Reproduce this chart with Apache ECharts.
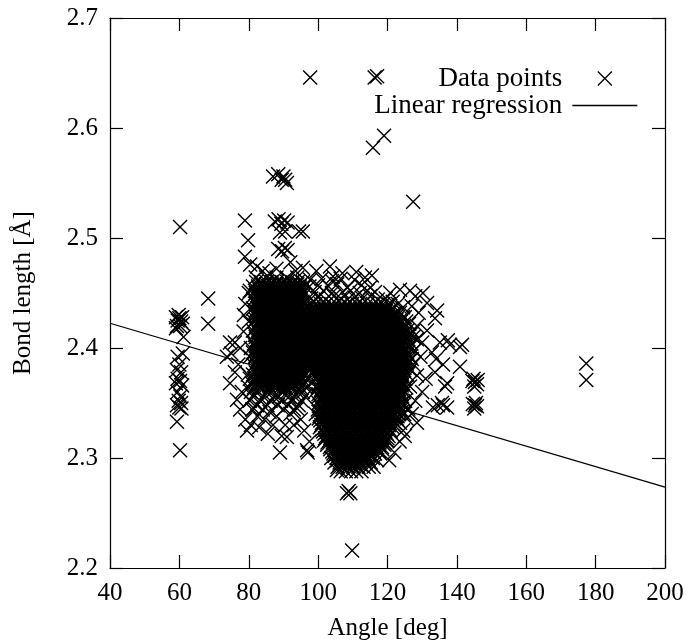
<!DOCTYPE html>
<html>
<head>
<meta charset="utf-8">
<script src="https://cdn.jsdelivr.net/npm/echarts@6.0.0/dist/echarts.min.js"></script>
<style>
html,body{margin:0;padding:0;background:#fff;}
#chart{width:689px;height:641px;}
</style>
</head>
<body>
<div id="chart"></div>
<script>
// ---------- axis settings ----------
const xRange = [40, 200];
const xStep = 20;
const yRange = [2.2, 2.7];
const yStep = 0.1;
const xTitle = 'Angle [deg]';
const yTitle = 'Bond length [Å]';
const seriesNames = ['Data points', 'Linear regression'];

// ---------- data (angle [deg], bond length [Å]) ----------
// column of points near 60 deg
const column60 = [
  [59,2.428],[59.5,2.425],[60,2.427],[60.5,2.424],[59.3,2.42],[60.2,2.42],[61,2.422],[59.8,2.43],
  [60.8,2.428],[59,2.418],[61.2,2.41],[61,2.395],[59.5,2.392],[60,2.385],[59.3,2.38],[60.5,2.378],
  [59.5,2.372],[60.2,2.37],[59,2.368],[60.8,2.366],[59.5,2.36],[60.3,2.356],[59.8,2.352],[60.5,2.35],
  [59.3,2.348],[60,2.346],[60.6,2.345],[59.3,2.333],[60.2,2.307],[60.2,2.51]
];
// isolated points 65-97 deg and above the clusters
const scatteredLow = [
  [68.3,2.445],[68.3,2.422],[73.7,2.392],[74.6,2.405],[76,2.405],[74.6,2.368],[76,2.378],[76.6,2.353],
  [77.5,2.344],[78,2.36],[79,2.335],[79.5,2.325],[80.6,2.33],[81.5,2.345],[82.5,2.338],[83,2.328],
  [84.5,2.335],[85.5,2.322],[86,2.342],[87,2.33],[88,2.338],[89,2.305],[89.5,2.32],[90.5,2.33],
  [91,2.319],[92,2.34],[93,2.33],[94,2.345],[95,2.335],[96,2.325],[97,2.305],[97.5,2.315],
  [96.8,2.307],[75,2.395],[77,2.385],[77.5,2.4],[78.5,2.415],[78.6,2.43],[79,2.44],[80,2.45],
  [78.9,2.516],[79.8,2.498],[78.9,2.483],[80.4,2.476],[82.4,2.474],[84,2.47],[86,2.468],[88,2.472],
  [92,2.478],[93.5,2.47],[95.6,2.473],[87,2.556],[88.5,2.558],[89.5,2.553],[90.5,2.553],[91,2.55],
  [90,2.556],[87.5,2.515],[88.6,2.517],[89.4,2.513],[90.2,2.516],[91.2,2.514],[89,2.505],[90.5,2.506],
  [94.5,2.506],[88.5,2.49],[89.6,2.488],[90.4,2.491],[91.2,2.489],
  [80.3,2.452],[80,2.424],[80.6,2.4],[79.7,2.376],[80.3,2.392]
];
// dense cluster 80-97 deg: each row = [bond length, angles...]
const clusterA = [
  [2.464, 82,85,88,91,94],
  [2.460, 82.1,83.6,85.1,86.6,88.1,89.6,91.1,92.6,94.1,95.6],
  [2.456, 81.2,82.7,84.2,85.7,87.2,88.7,90.2,91.7,93.2,94.7,96.2],
  [2.452, 81.8,83.3,84.8,86.3,87.8,89.3,90.8,92.3,93.8,95.3],
  [2.448, 82.4,83.9,85.4,86.9,88.4,89.9,91.4,92.9,94.4,95.9],
  [2.444, 81.5,83,84.5,86,87.5,89,90.5,92,93.5,95],
  [2.440, 82.1,83.6,85.1,86.6,88.1,89.6,91.1,92.6,94.1,95.6],
  [2.436, 81.2,82.7,84.2,85.7,87.2,88.7,90.2,91.7,93.2,94.7,96.2],
  [2.432, 81.8,83.3,84.8,86.3,87.8,89.3,90.8,92.3,93.8,95.3],
  [2.428, 82.4,83.9,85.4,86.9,88.4,89.9,91.4,92.9,94.4,95.9],
  [2.424, 81.5,83,84.5,86,87.5,89,90.5,92,93.5,95],
  [2.420, 82.1,83.6,85.1,86.6,88.1,89.6,91.1,92.6,94.1,95.6],
  [2.416, 81.2,82.7,84.2,85.7,87.2,88.7,90.2,91.7,93.2,94.7],
  [2.412, 81.8,83.3,84.8,86.3,87.8,89.3,90.8,92.3,93.8,95.3],
  [2.408, 82.4,83.9,85.4,86.9,88.4,89.9,91.4,92.9,94.4],
  [2.404, 81.5,83,84.5,86,87.5,89,90.5,92,93.5,95],
  [2.400, 82.1,83.6,85.1,86.6,88.1,89.6,91.1,92.6,94.1,95.6],
  [2.396, 81.2,82.7,84.2,85.7,87.2,88.7,90.2,91.7,93.2,94.7],
  [2.392, 81.8,83.3,84.8,86.3,87.8,89.3,90.8,92.3,93.8,95.3],
  [2.388, 82.4,83.9,85.4,86.9,88.4,89.9,91.4,92.9,94.4,95.9],
  [2.384, 81.5,83,84.5,86,87.5,89,90.5,92,93.5,95,96.5],
  [2.380, 82.1,83.6,85.1,86.6,88.1,89.6,91.1,92.6,94.1,95.6],
  [2.376, 81.2,82.7,84.2,85.7,87.2,88.7,90.2,91.7,93.2,94.7,96.2],
  [2.372, 80.3,81.8,83.3,84.8,86.3,87.8,89.3,90.8,92.3,93.8,95.3,96.8],
  [2.368, 80.9,82.4,83.9,85.4,86.9,88.4,89.9,91.4,92.9,94.4,95.9],
  [2.364, 80,81.5,83,84.5,86,87.5,89,90.5,92,93.5,95,96.5],
  [2.360, 80.6,82.1,85.1,86.6,89.6,91.1,94.1,95.6],
  [2.356, 81.2,84.2,87.2,88.7,91.7,93.2,96.2],
  [2.352, 80.3,83.3,86.3,89.3,92.3,95.3],
  [2.348, 82.4,85.4,88.4,91.4,94.4],
  [2.344, 81,84,90,93]
];
// overplotted interior of cluster A (between the rows above)
const clusterAInner = [
  [2.458, 83.5,85,86.5,88,89.5,91,92.5,94],
  [2.454, 82.8,84.3,85.8,87.3,88.8,90.3,91.8,93.3,94.8],
  [2.450, 82,83.5,85,86.5,88,89.5,91,92.5,94,95.5],
  [2.446, 82.8,84.3,85.8,87.3,88.8,90.3,91.8,93.3,94.8],
  [2.442, 82,83.5,85,86.5,88,89.5,91,92.5,94,95.5],
  [2.438, 82.8,84.3,85.8,87.3,88.8,90.3,91.8,93.3,94.8],
  [2.434, 82,83.5,85,86.5,88,89.5,91,92.5,94,95.5],
  [2.430, 82.8,84.3,85.8,87.3,88.8,90.3,91.8,93.3,94.8],
  [2.426, 82,83.5,85,86.5,88,89.5,91,92.5,94,95.5],
  [2.422, 82.8,84.3,85.8,87.3,88.8,90.3,91.8,93.3,94.8],
  [2.418, 82,83.5,85,86.5,88,89.5,91,92.5,94,95.5],
  [2.414, 82.8,84.3,85.8,87.3,88.8,90.3,91.8,93.3,94.8],
  [2.410, 82,83.5,85,86.5,88,89.5,91,92.5,94,95.5],
  [2.406, 82.8,84.3,85.8,87.3,88.8,90.3,91.8,93.3,94.8],
  [2.402, 82,83.5,85,86.5,88,89.5,91,92.5,94,95.5],
  [2.398, 82.8,84.3,85.8,87.3,88.8,90.3,91.8,93.3,94.8],
  [2.394, 82,83.5,85,86.5,88,89.5,91,92.5,94,95.5],
  [2.390, 82.8,84.3,85.8,87.3,88.8,90.3,91.8,93.3,94.8],
  [2.386, 82,83.5,85,86.5,88,89.5,91,92.5,94,95.5],
  [2.382, 82.8,84.3,85.8,87.3,88.8,90.3,91.8,93.3,94.8],
  [2.378, 82,83.5,85,86.5,88,89.5,91,92.5,94,95.5],
  [2.374, 82.8,84.3,85.8,87.3,88.8,90.3,91.8,93.3,94.8],
  [2.370, 82,83.5,85,86.5,88,89.5,91,92.5,94],
  [2.366, 82.8,84.3,85.8,87.3,88.8,90.3,91.8,93.3]
];
// dense main cluster 96-127 deg: each row = [bond length, angles...]
const clusterB = [
  [2.288, 106.5,108,109.5,111,112.5],
  [2.292, 105.6,107.1,108.6,110.1,111.6,113.1,114.6],
  [2.296, 104.7,106.2,107.7,109.2,110.7,112.2,113.7,115.2],
  [2.300, 103.8,105.3,106.8,108.3,109.8,111.3,112.8,114.3,115.8],
  [2.304, 104.4,105.9,107.4,108.9,110.4,111.9,113.4,114.9,116.4,117.9],
  [2.308, 103.5,105,106.5,108,109.5,111,112.5,114,115.5,117,118.5],
  [2.312, 102.6,104.1,105.6,107.1,108.6,110.1,111.6,113.1,114.6,116.1,117.6,119.1],
  [2.316, 101.7,103.2,104.7,106.2,107.7,109.2,110.7,112.2,113.7,115.2,116.7,118.2,119.7],
  [2.320, 102.3,103.8,105.3,106.8,108.3,109.8,111.3,112.8,114.3,115.8,117.3,118.8,120.3],
  [2.324, 101.4,102.9,104.4,105.9,107.4,108.9,110.4,111.9,113.4,114.9,116.4,117.9,119.4,120.9],
  [2.328, 100.5,102,103.5,105,106.5,108,109.5,111,112.5,114,115.5,117,118.5,120,121.5],
  [2.332, 101.1,102.6,104.1,105.6,107.1,108.6,110.1,111.6,113.1,114.6,116.1,117.6,119.1,120.6,122.1,123.6],
  [2.336, 100.2,101.7,103.2,104.7,106.2,107.7,109.2,110.7,112.2,113.7,115.2,116.7,118.2,119.7,121.2,122.7],
  [2.340, 100.8,102.3,103.8,105.3,106.8,108.3,109.8,111.3,112.8,114.3,115.8,117.3,118.8,120.3,121.8,123.3,124.8],
  [2.344, 99.9,101.4,102.9,104.4,105.9,107.4,108.9,110.4,111.9,113.4,114.9,116.4,117.9,119.4,120.9,122.4,123.9],
  [2.348, 100.5,102,103.5,105,106.5,108,109.5,111,112.5,114,115.5,117,118.5,120,121.5,123,124.5],
  [2.352, 101.1,102.6,104.1,105.6,107.1,108.6,110.1,111.6,113.1,114.6,116.1,117.6,119.1,120.6,122.1,123.6,125.1],
  [2.356, 100.2,101.7,103.2,104.7,106.2,107.7,109.2,110.7,112.2,113.7,115.2,116.7,118.2,119.7,121.2,122.7,124.2],
  [2.360, 100.8,102.3,103.8,105.3,106.8,108.3,109.8,111.3,112.8,114.3,115.8,117.3,118.8,120.3,121.8,123.3,124.8],
  [2.364, 99.9,101.4,102.9,104.4,105.9,107.4,108.9,110.4,111.9,113.4,114.9,116.4,117.9,119.4,120.9,122.4,123.9,125.4],
  [2.368, 100.5,102,103.5,105,106.5,108,109.5,111,112.5,114,115.5,117,118.5,120,121.5,123,124.5],
  [2.372, 101.1,102.6,104.1,105.6,107.1,108.6,110.1,111.6,113.1,114.6,116.1,117.6,119.1,120.6,122.1,123.6,125.1],
  [2.376, 98.7,100.2,101.7,103.2,104.7,106.2,107.7,109.2,110.7,112.2,113.7,115.2,116.7,118.2,119.7,121.2,122.7,124.2,125.7],
  [2.380, 97.8,99.3,100.8,102.3,103.8,105.3,106.8,108.3,109.8,111.3,112.8,114.3,115.8,117.3,118.8,120.3,121.8,123.3,124.8],
  [2.384, 98.4,99.9,101.4,102.9,104.4,105.9,107.4,108.9,110.4,111.9,113.4,114.9,116.4,117.9,119.4,120.9,122.4,123.9,125.4],
  [2.388, 97.5,99,100.5,102,103.5,105,106.5,108,109.5,111,112.5,114,115.5,117,118.5,120,121.5,123,124.5,126],
  [2.392, 96.6,98.1,99.6,101.1,102.6,104.1,105.6,107.1,108.6,110.1,111.6,113.1,114.6,116.1,117.6,119.1,120.6,122.1,123.6,125.1,126.6],
  [2.396, 95.7,97.2,98.7,100.2,101.7,103.2,104.7,106.2,107.7,109.2,110.7,112.2,113.7,115.2,116.7,118.2,119.7,121.2,122.7,124.2,125.7],
  [2.400, 96.3,97.8,99.3,100.8,102.3,103.8,105.3,106.8,108.3,109.8,111.3,112.8,114.3,115.8,117.3,118.8,120.3,121.8,123.3,124.8,126.3],
  [2.404, 96.9,98.4,99.9,101.4,102.9,104.4,105.9,107.4,108.9,110.4,111.9,113.4,114.9,116.4,117.9,119.4,120.9,122.4,123.9,125.4,126.9],
  [2.408, 96,97.5,99,100.5,102,103.5,105,106.5,108,109.5,111,112.5,114,115.5,117,118.5,120,121.5,123,124.5,126],
  [2.412, 96.6,98.1,99.6,101.1,102.6,104.1,105.6,107.1,108.6,110.1,111.6,113.1,114.6,116.1,117.6,119.1,120.6,122.1,123.6,125.1,126.6],
  [2.416, 95.7,97.2,98.7,100.2,101.7,103.2,104.7,106.2,107.7,109.2,110.7,112.2,113.7,115.2,116.7,118.2,119.7,121.2,122.7,124.2,125.7],
  [2.420, 96.3,97.8,99.3,100.8,102.3,103.8,105.3,106.8,108.3,109.8,111.3,112.8,114.3,115.8,117.3,118.8,120.3,121.8,123.3,124.8],
  [2.424, 96.9,98.4,99.9,101.4,102.9,104.4,105.9,107.4,108.9,110.4,111.9,113.4,114.9,116.4,117.9,119.4,120.9,122.4,123.9,125.4],
  [2.428, 96,97.5,99,100.5,102,103.5,105,106.5,108,109.5,111,112.5,114,115.5,117,118.5,120,121.5,123,124.5],
  [2.432, 96.6,98.1,99.6,101.1,102.6,104.1,105.6,107.1,108.6,110.1,111.6,113.1,114.6,116.1,117.6,119.1,120.6,122.1,123.6],
  [2.436, 97.2,98.7,100.2,101.7,103.2,104.7,106.2,107.7,109.2,110.7,112.2,113.7,115.2,116.7,118.2,119.7,121.2],
  [2.440, 97.8,99.3,100.8,102.3,103.8,105.3,106.8,108.3,109.8,111.3,112.8,114.3,115.8,117.3,118.8,120.3]
];
// overplotted interior of the main cluster (between the rows above)
const clusterBInner = [
  [2.294, 106.2,107.7,109.2,110.7,112.2],
  [2.298, 105.5,107,108.5,110,111.5,113,114.5],
  [2.302, 104.8,106.3,107.8,109.3,110.8,112.3,113.8,115.3],
  [2.306, 104.1,105.6,107.1,108.6,110.1,111.6,113.1,114.6,116.1,117.6],
  [2.310, 103.4,104.9,106.4,107.9,109.4,110.9,112.4,113.9,115.4,116.9,118.4],
  [2.314, 102.7,104.2,105.7,107.2,108.7,110.2,111.7,113.2,114.7,116.2,117.7,119.2],
  [2.318, 102,103.5,105,106.5,108,109.5,111,112.5,114,115.5,117,118.5,120],
  [2.322, 101.8,103.3,104.8,106.3,107.8,109.3,110.8,112.3,113.8,115.3,116.8,118.3,119.8],
  [2.326, 101.1,102.6,104.1,105.6,107.1,108.6,110.1,111.6,113.1,114.6,116.1,117.6,119.1,120.6],
  [2.330, 100.9,102.4,103.9,105.4,106.9,108.4,109.9,111.4,112.9,114.4,115.9,117.4,118.9,120.4,121.9],
  [2.334, 100.6,102.1,103.6,105.1,106.6,108.1,109.6,111.1,112.6,114.1,115.6,117.1,118.6,120.1,121.6,123.1],
  [2.338, 100.4,101.9,103.4,104.9,106.4,107.9,109.4,110.9,112.4,113.9,115.4,116.9,118.4,119.9,121.4,122.9],
  [2.342, 100.1,101.6,103.1,104.6,106.1,107.6,109.1,110.6,112.1,113.6,115.1,116.6,118.1,119.6,121.1,122.6,124.1],
  [2.346, 100.8,102.3,103.8,105.3,106.8,108.3,109.8,111.3,112.8,114.3,115.8,117.3,118.8,120.3,121.8,123.3],
  [2.350, 100.1,101.6,103.1,104.6,106.1,107.6,109.1,110.6,112.1,113.6,115.1,116.6,118.1,119.6,121.1,122.6,124.1],
  [2.354, 100.8,102.3,103.8,105.3,106.8,108.3,109.8,111.3,112.8,114.3,115.8,117.3,118.8,120.3,121.8,123.3],
  [2.358, 100.1,101.6,103.1,104.6,106.1,107.6,109.1,110.6,112.1,113.6,115.1,116.6,118.1,119.6,121.1,122.6,124.1],
  [2.362, 100.8,102.3,103.8,105.3,106.8,108.3,109.8,111.3,112.8,114.3,115.8,117.3,118.8,120.3,121.8,123.3],
  [2.366, 100.1,101.6,103.1,104.6,106.1,107.6,109.1,110.6,112.1,113.6,115.1,116.6,118.1,119.6,121.1,122.6,124.1],
  [2.370, 100.8,102.3,103.8,105.3,106.8,108.3,109.8,111.3,112.8,114.3,115.8,117.3,118.8,120.3,121.8,123.3],
  [2.374, 100.1,101.6,103.1,104.6,106.1,107.6,109.1,110.6,112.1,113.6,115.1,116.6,118.1,119.6,121.1,122.6,124.1],
  [2.378, 98.6,100.1,101.6,103.1,104.6,106.1,107.6,109.1,110.6,112.1,113.6,115.1,116.6,118.1,119.6,121.1,122.6,124.1],
  [2.382, 97.9,99.4,100.9,102.4,103.9,105.4,106.9,108.4,109.9,111.4,112.9,114.4,115.9,117.4,118.9,120.4,121.9,123.4,124.9],
  [2.386, 98.6,100.1,101.6,103.1,104.6,106.1,107.6,109.1,110.6,112.1,113.6,115.1,116.6,118.1,119.6,121.1,122.6,124.1,125.6],
  [2.390, 97.9,99.4,100.9,102.4,103.9,105.4,106.9,108.4,109.9,111.4,112.9,114.4,115.9,117.4,118.9,120.4,121.9,123.4,124.9],
  [2.394, 97.1,98.6,100.1,101.6,103.1,104.6,106.1,107.6,109.1,110.6,112.1,113.6,115.1,116.6,118.1,119.6,121.1,122.6,124.1,125.6],
  [2.398, 96.4,97.9,99.4,100.9,102.4,103.9,105.4,106.9,108.4,109.9,111.4,112.9,114.4,115.9,117.4,118.9,120.4,121.9,123.4,124.9],
  [2.402, 97.1,98.6,100.1,101.6,103.1,104.6,106.1,107.6,109.1,110.6,112.1,113.6,115.1,116.6,118.1,119.6,121.1,122.6,124.1,125.6],
  [2.406, 96.4,97.9,99.4,100.9,102.4,103.9,105.4,106.9,108.4,109.9,111.4,112.9,114.4,115.9,117.4,118.9,120.4,121.9,123.4,124.9],
  [2.410, 97.1,98.6,100.1,101.6,103.1,104.6,106.1,107.6,109.1,110.6,112.1,113.6,115.1,116.6,118.1,119.6,121.1,122.6,124.1,125.6],
  [2.414, 96.4,97.9,99.4,100.9,102.4,103.9,105.4,106.9,108.4,109.9,111.4,112.9,114.4,115.9,117.4,118.9,120.4,121.9,123.4,124.9],
  [2.418, 97.1,98.6,100.1,101.6,103.1,104.6,106.1,107.6,109.1,110.6,112.1,113.6,115.1,116.6,118.1,119.6,121.1,122.6,124.1],
  [2.422, 96.4,97.9,99.4,100.9,102.4,103.9,105.4,106.9,108.4,109.9,111.4,112.9,114.4,115.9,117.4,118.9,120.4,121.9,123.4],
  [2.426, 97.1,98.6,100.1,101.6,103.1,104.6,106.1,107.6,109.1,110.6,112.1,113.6,115.1,116.6,118.1,119.6,121.1,122.6],
  [2.430, 97.9,99.4,100.9,102.4,103.9,105.4,106.9,108.4,109.9,111.4,112.9,114.4,115.9,117.4,118.9,120.4,121.9],
  [2.434, 98.6,100.1,101.6,103.1,104.6,106.1,107.6,109.1,110.6,112.1,113.6,115.1,116.6,118.1,119.6]
];
// sparser points on the top and lower edges of the main cluster
const clusterBFringe = [
  [98,2.445],[100,2.446],[102.2,2.444],[104.5,2.447],[106.5,2.445],[108.5,2.444],[110.5,2.446],[112.8,2.445],
  [115,2.447],[117.2,2.444],[119.5,2.445],[121.5,2.442],[123,2.44],[124.5,2.437],[99,2.451],[101.5,2.452],
  [104,2.45],[107,2.451],[109.3,2.452],[112,2.45],[114.2,2.452],[116.4,2.451],[120.8,2.45],[97.5,2.456],
  [100,2.457],[103,2.456],[105.5,2.458],[108.5,2.455],[112.5,2.457],[115,2.455],[123.6,2.453],[97.7,2.462],
  [101,2.463],[104,2.461],[106.5,2.463],[110.5,2.462],[113.5,2.464],[99.5,2.47],[103.4,2.474],[104.3,2.465],
  [107,2.468],[111,2.469],[115.5,2.466],[125,2.428],[126.2,2.422],[127.3,2.415],[128.5,2.408],[127.8,2.398],
  [127,2.39],[126.6,2.38],[105.4,2.289],[108.3,2.268],[109.3,2.268],[108.8,2.27],[109.8,2.216],
  [99.3,2.34],[99,2.36],[99.6,2.372]
];
// tail towards larger angles
const tailPoints = [
  [126.5,2.452],[128,2.447],[130.2,2.45],[131.4,2.441],[127,2.438],[129,2.432],[134.3,2.434],[133.7,2.427],
  [131.4,2.416],[128.5,2.42],[127.5,2.41],[130,2.405],[135.1,2.405],[137.4,2.407],[138,2.403],[140.9,2.401],
  [141.5,2.403],[132.8,2.396],[129.5,2.392],[127.5,2.385],[134,2.39],[136,2.385],[133.7,2.378],[140.9,2.383],
  [137.2,2.368],[136.6,2.365],[131,2.372],[128.5,2.375],[126.5,2.365],[130,2.36],[128,2.352],[126,2.345],
  [133.1,2.346],[134.5,2.348],[136,2.348],[137.2,2.346],[135.7,2.35],[128.5,2.332],[125.5,2.336],[127,2.34],
  [124.5,2.325],[123.5,2.315],[125,2.32],[122,2.305],[120.5,2.298],[119.9,2.316],[117,2.298],[116,2.292],
  [144.5,2.37],[145.2,2.369],[145.8,2.367],[146,2.371],[144.8,2.372],[145,2.365],
  [144.6,2.349],[145.2,2.348],[145.8,2.347],[145,2.345],[145.5,2.35],
  [177.3,2.386],[177.3,2.371]
];
// high outliers
const highOutliers = [
  [97.7,2.646],[116.3,2.646],[117,2.647],[115.8,2.582],[119,2.593],[127.4,2.533],[95.6,2.506]
];
// linear regression end points
const regressionLine = [[40, 2.4225], [200, 2.2735]];

// ---------- build ----------
const rowsToPoints = rows => rows.flatMap(([y, ...xs]) => xs.map(x => [x, y]));
const allPoints = [].concat(
  column60, scatteredLow,
  rowsToPoints(clusterA), rowsToPoints(clusterAInner),
  rowsToPoints(clusterB), rowsToPoints(clusterBInner),
  clusterBFringe, tailPoints, highOutliers
);

const FONT = '"Liberation Serif", "Times New Roman", Times, serif';
const CROSS = 'path://M0,0L10,10M10,0L0,10';
const axisLineStyle = { color: '#000', width: 1.2 };
const tickStyle = { show: true, inside: true, length: 13, lineStyle: { color: '#000', width: 1.2 } };
const labelStyle = { fontFamily: FONT, fontSize: 25, color: '#000' };

const chart = echarts.init(document.getElementById('chart'), null, { renderer: 'canvas' });
chart.setOption({
  animation: false,
  backgroundColor: '#fff',
  grid: { left: 110, right: 24, top: 18, bottom: 73, containLabel: false, outerBoundsMode: 'none' },
  legend: {
    orient: 'vertical',
    right: 51,
    top: 65,
    align: 'right',
    itemWidth: 65,
    itemHeight: 14,
    itemGap: 0,
    padding: 0,
    selectedMode: false,
    textStyle: { fontFamily: FONT, fontSize: 27, color: '#000', padding: [0, 5, 0, 0] },
    data: [
      { name: seriesNames[0], icon: CROSS, itemStyle: { color: '#000', borderColor: '#000', borderWidth: 1.3 } },
      { name: seriesNames[1], itemStyle: { color: 'rgba(0,0,0,0)', borderColor: 'rgba(0,0,0,0)', borderWidth: 0 },
        lineStyle: { color: '#000', width: 1.3 } }
    ]
  },
  xAxis: [
    {
      type: 'value', min: xRange[0], max: xRange[1], interval: xStep, position: 'bottom',
      name: xTitle, nameLocation: 'middle', nameGap: 48,
      nameTextStyle: { fontFamily: FONT, fontSize: 25, color: '#000' },
      axisLine: { show: true, onZero: false, lineStyle: axisLineStyle },
      axisTick: tickStyle,
      axisLabel: Object.assign({ margin: 13 }, labelStyle),
      splitLine: { show: false }
    },
    {
      type: 'value', min: xRange[0], max: xRange[1], interval: xStep, position: 'top',
      axisLine: { show: true, onZero: false, lineStyle: axisLineStyle },
      axisTick: tickStyle, axisLabel: { show: false }, splitLine: { show: false }
    }
  ],
  yAxis: [
    {
      type: 'value', min: yRange[0], max: yRange[1], interval: yStep, position: 'left',
      name: yTitle, nameLocation: 'middle', nameGap: 74, nameRotate: 90,
      nameTextStyle: { fontFamily: FONT, fontSize: 25, color: '#000' },
      axisLine: { show: true, onZero: false, lineStyle: axisLineStyle },
      axisTick: tickStyle,
      axisLabel: Object.assign({ margin: 12, formatter: v => v.toFixed(1) }, labelStyle),
      splitLine: { show: false }
    },
    {
      type: 'value', min: yRange[0], max: yRange[1], interval: yStep, position: 'right',
      axisLine: { show: true, onZero: false, lineStyle: axisLineStyle },
      axisTick: tickStyle, axisLabel: { show: false }, splitLine: { show: false }
    }
  ],
  series: [
    {
      name: seriesNames[0],
      type: 'scatter',
      data: allPoints,
      symbol: CROSS,
      symbolSize: 14,
      large: false,
      progressive: 0,
      itemStyle: { color: '#000', borderColor: '#000', borderWidth: 1.4, opacity: 1 },
      emphasis: { disabled: true },
      silent: true,
      z: 3
    },
    {
      name: seriesNames[1],
      type: 'line',
      data: regressionLine,
      symbol: 'none',
      showSymbol: false,
      itemStyle: { color: '#000' },
      lineStyle: { color: '#000', width: 1.3 },
      silent: true,
      z: 2
    }
  ]
});
</script>
</body>
</html>
